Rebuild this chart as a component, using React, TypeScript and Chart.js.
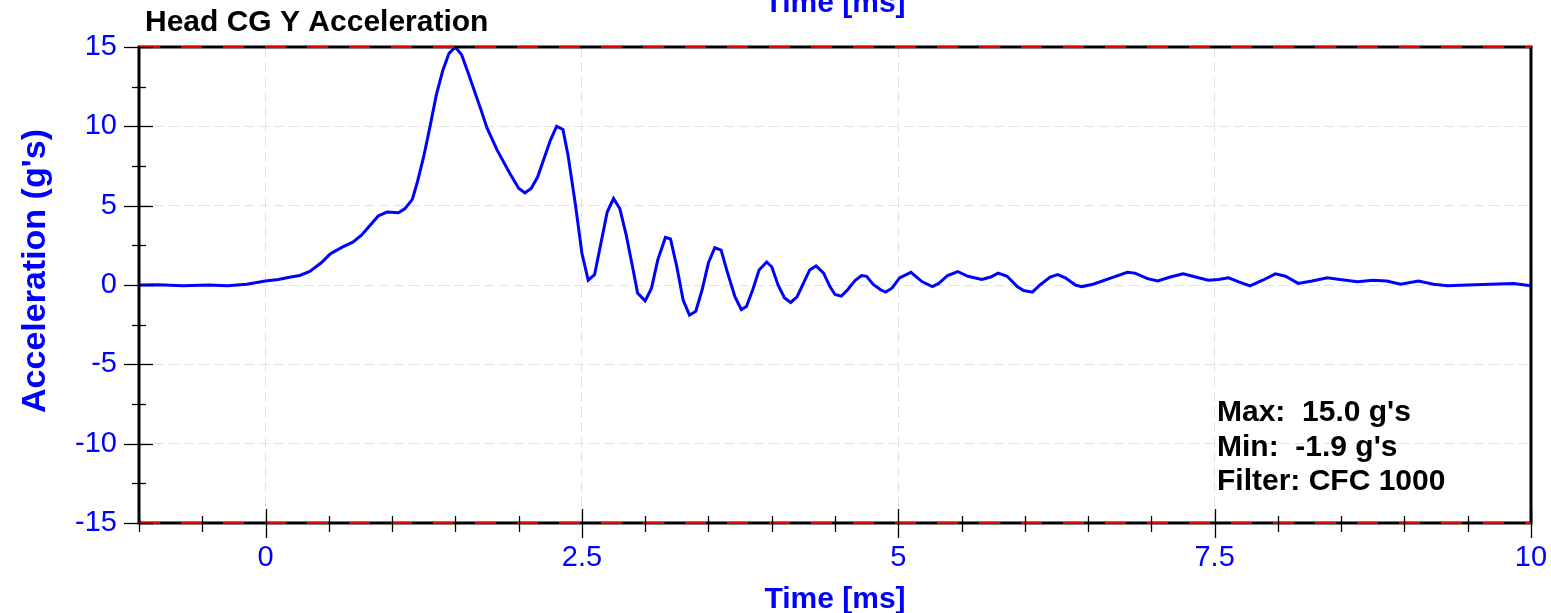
import React, { useEffect, useRef } from "react";
import { Chart, registerables } from "chart.js";

Chart.register(...registerables);

// ---- Data ----
const times: number[] = [
  -1.0, -0.85, -0.65, -0.45, -0.3, -0.15, 0.0, 0.1, 0.2, 0.27, 0.35, 0.44, 0.51, 0.61, 0.69, 0.76, 0.83, 0.89,
  0.96, 1.05, 1.1, 1.16, 1.2, 1.25, 1.3, 1.35, 1.4, 1.45, 1.5, 1.55, 1.6, 1.7, 1.75, 1.83, 1.93, 2.0,
  2.05, 2.1, 2.15, 2.25, 2.3, 2.35, 2.39, 2.45, 2.5, 2.55, 2.6, 2.7, 2.75, 2.8, 2.85, 2.9, 2.94, 3.0,
  3.05, 3.1, 3.16, 3.2, 3.25, 3.3, 3.35, 3.4, 3.45, 3.5, 3.55, 3.6, 3.65, 3.71, 3.76, 3.8, 3.85, 3.9,
  3.96, 4.0, 4.05, 4.1, 4.15, 4.2, 4.25, 4.3, 4.35, 4.41, 4.46, 4.5, 4.55, 4.6, 4.66, 4.71, 4.75, 4.8,
  4.86, 4.9, 4.95, 5.01, 5.1, 5.19, 5.27, 5.32, 5.39, 5.47, 5.55, 5.66, 5.73, 5.79, 5.86, 5.94, 5.99, 6.06,
  6.12, 6.2, 6.26, 6.32, 6.4, 6.45, 6.54, 6.7, 6.81, 6.87, 6.97, 7.05, 7.15, 7.25, 7.35, 7.45, 7.53, 7.61,
  7.69, 7.78, 7.88, 7.98, 8.06, 8.16, 8.27, 8.39, 8.49, 8.63, 8.75, 8.86, 8.97, 9.11, 9.23, 9.34, 9.5, 9.68,
  9.86, 10.0,
];

const accel: number[] = [
  0.0, 0.02, -0.05, 0.0, -0.05, 0.05, 0.25, 0.35, 0.5, 0.6, 0.85, 1.4, 1.95, 2.4, 2.7, 3.15, 3.8, 4.35,
  4.6, 4.55, 4.8, 5.4, 6.5, 8.1, 10.0, 12.0, 13.5, 14.6, 15.0, 14.5, 13.4, 11.1, 9.9, 8.5, 7.05, 6.1,
  5.8, 6.1, 6.8, 9.1, 10.0, 9.8, 8.2, 5.0, 2.0, 0.3, 0.65, 4.6, 5.45, 4.8, 3.15, 1.15, -0.5, -1.0,
  -0.2, 1.6, 3.0, 2.9, 1.15, -0.95, -1.9, -1.65, -0.3, 1.4, 2.35, 2.2, 0.8, -0.75, -1.55, -1.35, -0.3, 0.95,
  1.45, 1.15, 0.0, -0.8, -1.1, -0.75, 0.1, 0.95, 1.2, 0.75, -0.1, -0.6, -0.7, -0.3, 0.3, 0.6, 0.55, 0.05,
  -0.3, -0.45, -0.2, 0.45, 0.8, 0.2, -0.1, 0.1, 0.6, 0.85, 0.55, 0.35, 0.5, 0.75, 0.55, -0.1, -0.35, -0.45,
  0.0, 0.5, 0.65, 0.45, 0.0, -0.1, 0.05, 0.5, 0.8, 0.75, 0.4, 0.25, 0.5, 0.7, 0.5, 0.3, 0.35, 0.45,
  0.2, -0.05, 0.3, 0.7, 0.55, 0.1, 0.25, 0.45, 0.35, 0.2, 0.3, 0.25, 0.05, 0.25, 0.05, -0.05, 0.0, 0.05,
  0.1, -0.05,
];

const xTickValues: number[] = [0, 2.5, 5, 7.5, 10];
const yTickValues: number[] = [-15, -10, -5, 0, 5, 10, 15];
const xRange: number[] = [-1, 10];
const yRange: number[] = [-15, 15];

const chartTitle = "Head CG Y Acceleration";
const xAxisTitle = "Time [ms]";
const yAxisTitle = "Acceleration (g's)";
const statLines: string[] = ["Max:  15.0 g's", "Min:  -1.9 g's", "Filter: CFC 1000"];

const FONT = "'Liberation Sans', Arial, sans-serif";
const BLUE = "#0000ff";

const decorPlugin = {
  id: "decor",
  afterDraw(chart: any) {
    const { ctx, chartArea, scales } = chart;
    const { left, right, top, bottom } = chartArea;
    const xs = scales.x;
    const ys = scales.y;
    ctx.save();

    // frame
    ctx.strokeStyle = "#000";
    ctx.lineWidth = 3;
    ctx.setLineDash([]);
    ctx.beginPath();
    ctx.moveTo(left, top);
    ctx.lineTo(right, top);
    ctx.lineTo(right, bottom);
    ctx.lineTo(left, bottom);
    ctx.closePath();
    ctx.stroke();

    // red dashed limit lines at top and bottom
    ctx.strokeStyle = "rgb(230,0,0)";
    ctx.lineWidth = 2;
    ctx.setLineDash([21, 21]);
    [yRange[1], yRange[0]].forEach((v) => {
      const py = ys.getPixelForValue(v);
      ctx.beginPath();
      ctx.moveTo(left, py);
      ctx.lineTo(right, py);
      ctx.stroke();
    });
    ctx.setLineDash([]);

    // ticks crossing the axes
    ctx.strokeStyle = "#000";
    ctx.lineWidth = 1.3;
    for (let i = 0; i <= 22; i++) {
      const v = xRange[0] + i * 0.5;
      const px = Math.round(xs.getPixelForValue(v)) + 0.5;
      const major = Math.abs(v / 2.5 - Math.round(v / 2.5)) < 1e-6;
      ctx.beginPath();
      ctx.moveTo(px, bottom - (major ? 14 : 7));
      ctx.lineTo(px, bottom + (major ? 15 : 9));
      ctx.stroke();
    }
    for (let i = 0; i <= 12; i++) {
      const v = yRange[0] + i * 2.5;
      const py = Math.round(ys.getPixelForValue(v)) + 0.5;
      const major = Math.abs(v / 5 - Math.round(v / 5)) < 1e-6;
      ctx.beginPath();
      ctx.moveTo(left - (major ? 15 : 7), py);
      ctx.lineTo(left + (major ? 14 : 7), py);
      ctx.stroke();
    }

    // titles
    const cx = (left + right) / 2;
    ctx.textBaseline = "alphabetic";
    ctx.fillStyle = "#000";
    ctx.font = `bold 30px ${FONT}`;
    ctx.textAlign = "left";
    ctx.fillText(chartTitle, 145, 31);

    ctx.fillStyle = BLUE;
    ctx.textAlign = "center";
    ctx.fillText(xAxisTitle, cx, 12);
    ctx.fillText(xAxisTitle, cx, 608);

    ctx.save();
    ctx.translate(45, 271);
    ctx.rotate(-Math.PI / 2);
    ctx.font = `bold 34px ${FONT}`;
    ctx.fillText(yAxisTitle, 0, 0);
    ctx.restore();

    // stats text
    ctx.fillStyle = "#000";
    ctx.textAlign = "left";
    ctx.font = `bold 30px ${FONT}`;
    statLines.forEach((s, i) => {
      ctx.fillText(s, 1217, 421 + i * 34.7);
    });

    ctx.restore();
  },
};

export default function App() {
  const canvasRef = useRef<HTMLCanvasElement | null>(null);

  useEffect(() => {
    const canvas = canvasRef.current;
    if (!canvas) return;
    const points = times.map((t, i) => ({ x: t, y: accel[i] }));
    const chart = new Chart(canvas, {
      type: "line",
      data: {
        datasets: [
          {
            data: points,
            borderColor: BLUE,
            borderWidth: 3,
            pointRadius: 0,
            tension: 0,
            fill: false,
          },
        ],
      },
      options: {
        animation: false,
        responsive: false,
        maintainAspectRatio: false,
        layout: { padding: { top: 47, right: 20, left: 0, bottom: 0 } },
        plugins: {
          legend: { display: false },
          tooltip: { enabled: false },
          title: { display: false },
        },
        scales: {
          x: {
            type: "linear",
            min: xRange[0],
            max: xRange[1],
            afterBuildTicks: (scale: any) => {
              scale.ticks = xTickValues.map((v) => ({ value: v }));
            },
            afterFit: (scale: any) => {
              scale.height = 90;
              scale.paddingLeft = 0;
              scale.paddingRight = 0;
            },
            ticks: {
              autoSkip: false,
              maxRotation: 0,
              padding: 18,
              color: BLUE,
              font: { family: FONT, size: 29 },
              callback: (v: any) => String(v),
            },
            grid: {
              color: "#e2e2e2",
              lineWidth: 1,
              drawTicks: false,
            },
            border: { display: false, dash: [10, 5] },
          },
          y: {
            type: "linear",
            min: yRange[0],
            max: yRange[1],
            afterBuildTicks: (scale: any) => {
              scale.ticks = yTickValues.map((v) => ({ value: v }));
            },
            afterFit: (scale: any) => {
              scale.width = 139;
              scale.paddingTop = 0;
              scale.paddingBottom = 0;
            },
            ticks: {
              autoSkip: false,
              padding: 22,
              color: BLUE,
              font: { family: FONT, size: 29 },
              callback: (v: any) => String(v),
            },
            grid: {
              color: "#e2e2e2",
              lineWidth: 1,
              drawTicks: false,
            },
            border: { display: false, dash: [10, 5] },
          },
        },
      },
      plugins: [decorPlugin],
    });
    return () => chart.destroy();
  }, []);

  return (
    <div style={{ position: "absolute", left: 0, top: 0, width: 1551, height: 613, background: "#fff" }}>
      <canvas ref={canvasRef} width={1551} height={613} style={{ display: "block" }} />
    </div>
  );
}
